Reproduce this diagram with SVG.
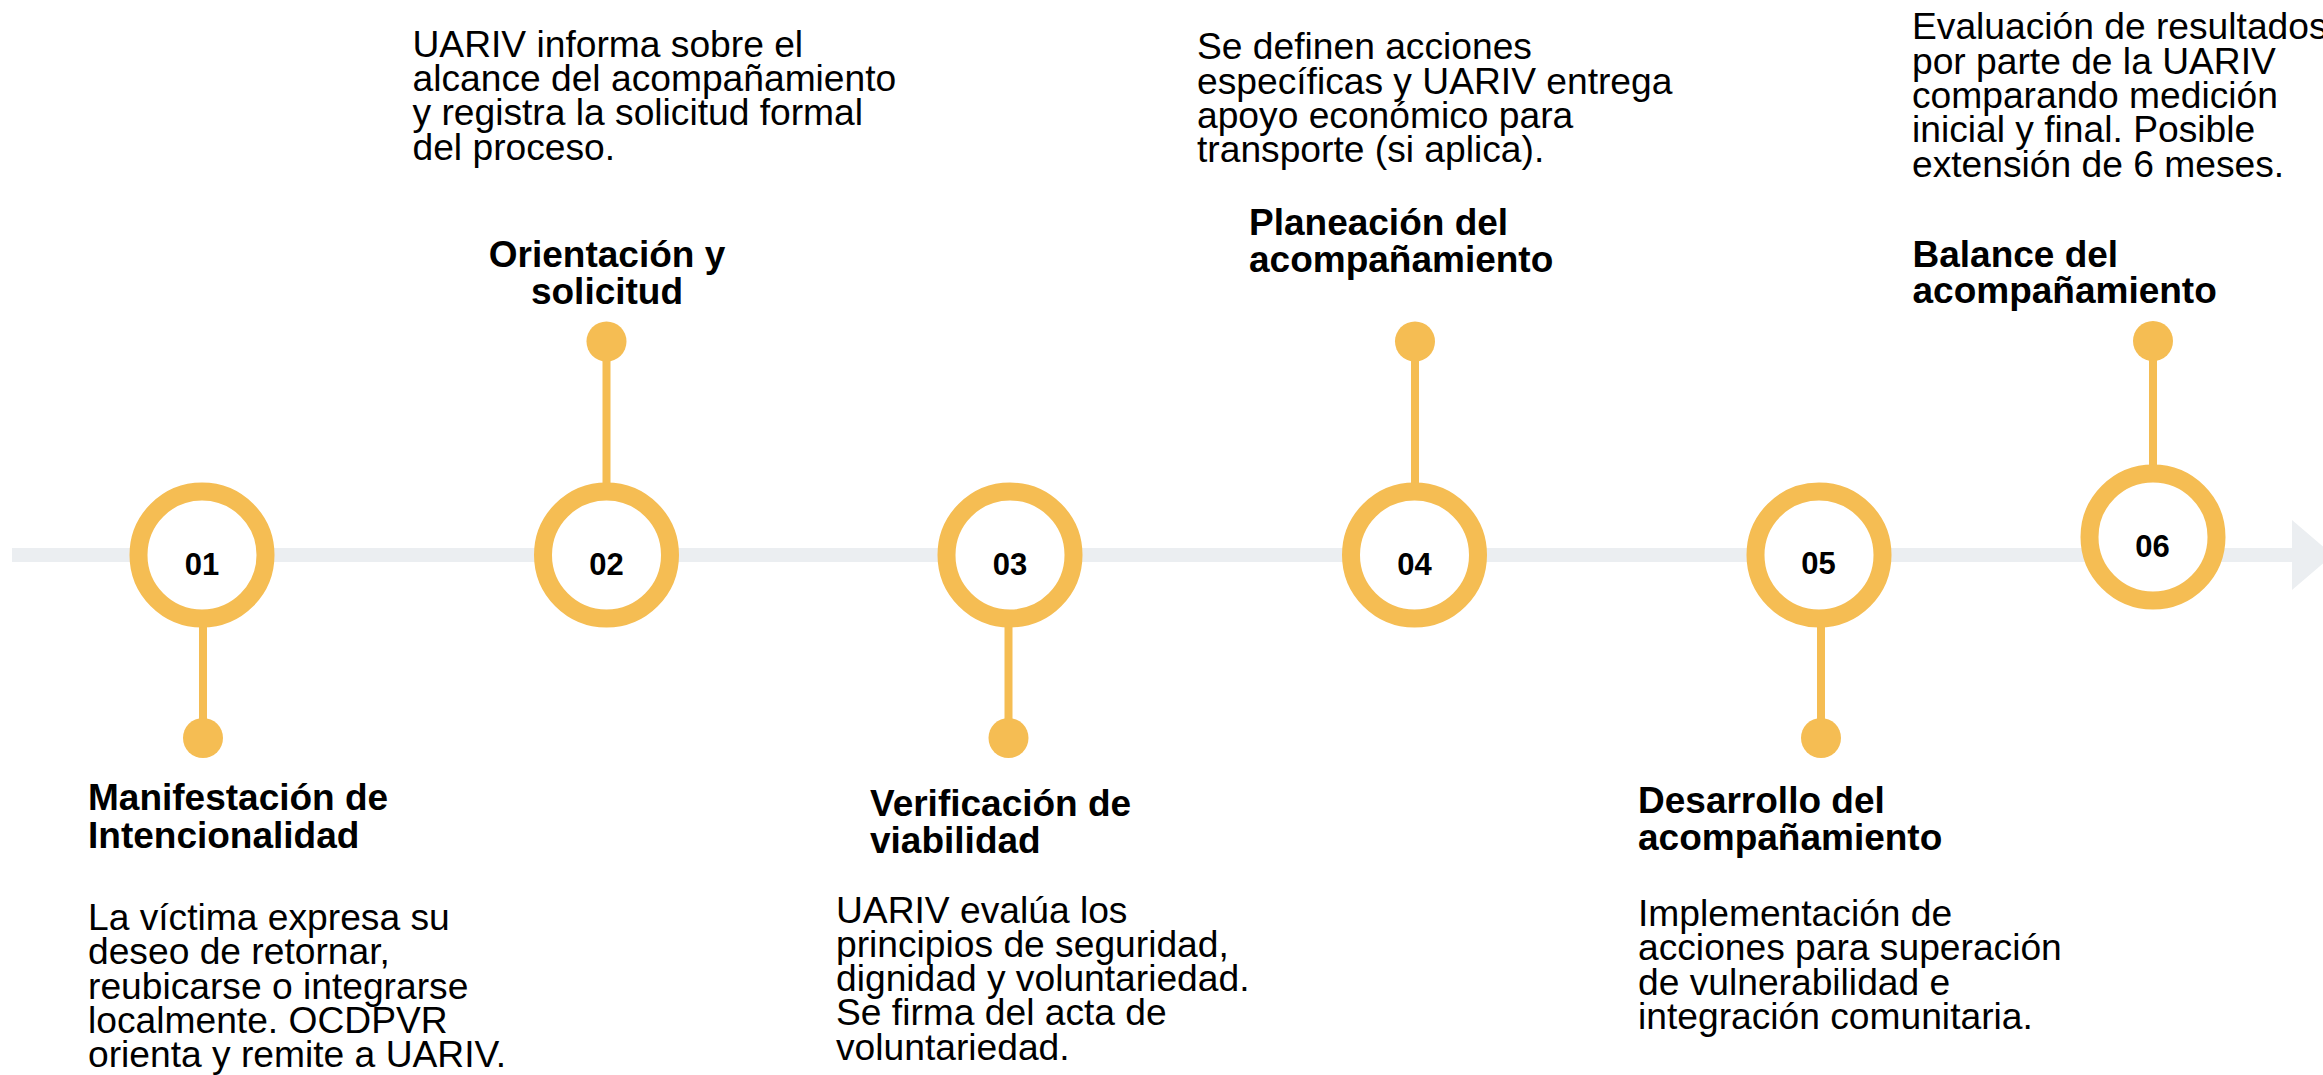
<svg xmlns="http://www.w3.org/2000/svg" width="2323" height="1075" viewBox="0 0 2323 1075">
<style>
.ring{fill:#FFFFFF;stroke:#F5BD53;stroke-width:18}
.dot{fill:#F5BD53}
.stem{stroke:#F5BD53;stroke-width:8}
.num{font-family:"Liberation Sans",Arial,sans-serif;font-weight:bold;font-size:31px;fill:#000;text-anchor:middle}
.title{font-family:"Liberation Sans",Arial,sans-serif;font-weight:bold;font-size:37px;fill:#000}
.body{font-family:"Liberation Sans",Arial,sans-serif;font-size:37.2px;fill:#000}
</style>
<rect width="2323" height="1075" fill="#FFFFFF"/>
<g id="timeline">
<rect x="12" y="548" width="2282" height="14" fill="#EBEEF1"/>
<polygon points="2292,520 2333,555 2292,590" fill="#EBEEF1"/>
</g>
<g id="connectors">
<line class="stem" x1="203" y1="620" x2="203" y2="738"/>
<line class="stem" x1="606.5" y1="341" x2="606.5" y2="490"/>
<line class="stem" x1="1008.5" y1="620" x2="1008.5" y2="738"/>
<line class="stem" x1="1415" y1="341" x2="1415" y2="490"/>
<line class="stem" x1="1821" y1="620" x2="1821" y2="738"/>
<line class="stem" x1="2153" y1="341" x2="2153" y2="470"/>
</g>
<g id="node01">
<circle class="ring" cx="202" cy="555" r="63.5"/>
<text class="num" x="202" y="575">01</text>
<circle class="dot" cx="203" cy="738" r="20"/>
<text class="title" x="88" y="810">Manifestación de</text>
<text class="title" x="88" y="847.5">Intencionalidad</text>
<text class="body" x="88" y="930">La víctima expresa su</text>
<text class="body" x="88" y="964.3">deseo de retornar,</text>
<text class="body" x="88" y="998.6">reubicarse o integrarse</text>
<text class="body" x="88" y="1032.9">localmente. OCDPVR</text>
<text class="body" x="88" y="1067.2">orienta y remite a UARIV.</text>
</g>
<g id="node02">
<circle class="ring" cx="606.5" cy="555" r="63.5"/>
<text class="num" x="606.5" y="575">02</text>
<circle class="dot" cx="606.5" cy="341.5" r="20"/>
<text class="title" x="607" y="266.7" text-anchor="middle">Orientación y</text>
<text class="title" x="607" y="304" text-anchor="middle">solicitud</text>
<text class="body" x="412.5" y="56.7">UARIV informa sobre el</text>
<text class="body" x="412.5" y="91">alcance del acompañamiento</text>
<text class="body" x="412.5" y="125.3">y registra la solicitud formal</text>
<text class="body" x="412.5" y="159.6">del proceso.</text>
</g>
<g id="node03">
<circle class="ring" cx="1010" cy="555" r="63.5"/>
<text class="num" x="1010" y="575">03</text>
<circle class="dot" cx="1008.5" cy="738" r="20"/>
<text class="title" x="870" y="816">Verificación de</text>
<text class="title" x="870" y="853">viabilidad</text>
<text class="body" x="836" y="922.5">UARIV evalúa los</text>
<text class="body" x="836" y="956.8">principios de seguridad,</text>
<text class="body" x="836" y="991.1">dignidad y voluntariedad.</text>
<text class="body" x="836" y="1025.4">Se firma del acta de</text>
<text class="body" x="836" y="1059.7">voluntariedad.</text>
</g>
<g id="node04">
<circle class="ring" cx="1414.5" cy="555" r="63.5"/>
<text class="num" x="1414.5" y="574.5">04</text>
<circle class="dot" cx="1415" cy="341.5" r="20"/>
<text class="title" x="1249" y="235">Planeación del</text>
<text class="title" x="1249" y="271.7">acompañamiento</text>
<text class="body" x="1197" y="59.3">Se definen acciones</text>
<text class="body" x="1197" y="93.6">específicas y UARIV entrega</text>
<text class="body" x="1197" y="127.9">apoyo económico para</text>
<text class="body" x="1197" y="162.2">transporte (si aplica).</text>
</g>
<g id="node05">
<circle class="ring" cx="1819" cy="555" r="63.5"/>
<text class="num" x="1818.5" y="574">05</text>
<circle class="dot" cx="1821" cy="738" r="20"/>
<text class="title" x="1638" y="813">Desarrollo del</text>
<text class="title" x="1638" y="850">acompañamiento</text>
<text class="body" x="1638" y="926">Implementación de</text>
<text class="body" x="1638" y="960.3">acciones para superación</text>
<text class="body" x="1638" y="994.6">de vulnerabilidad e</text>
<text class="body" x="1638" y="1028.9">integración comunitaria.</text>
</g>
<g id="node06">
<circle class="ring" cx="2153" cy="537" r="63.5"/>
<text class="num" x="2152.5" y="556.7">06</text>
<circle class="dot" cx="2153" cy="341" r="20"/>
<text class="title" x="1912.5" y="266.7">Balance del</text>
<text class="title" x="1912.5" y="303.3">acompañamiento</text>
<text class="body" x="1912" y="39.3">Evaluación de resultados</text>
<text class="body" x="1912" y="73.6">por parte de la UARIV</text>
<text class="body" x="1912" y="107.9">comparando medición</text>
<text class="body" x="1912" y="142.2">inicial y final. Posible</text>
<text class="body" x="1912" y="176.5">extensión de 6 meses.</text>
</g>
</svg>
